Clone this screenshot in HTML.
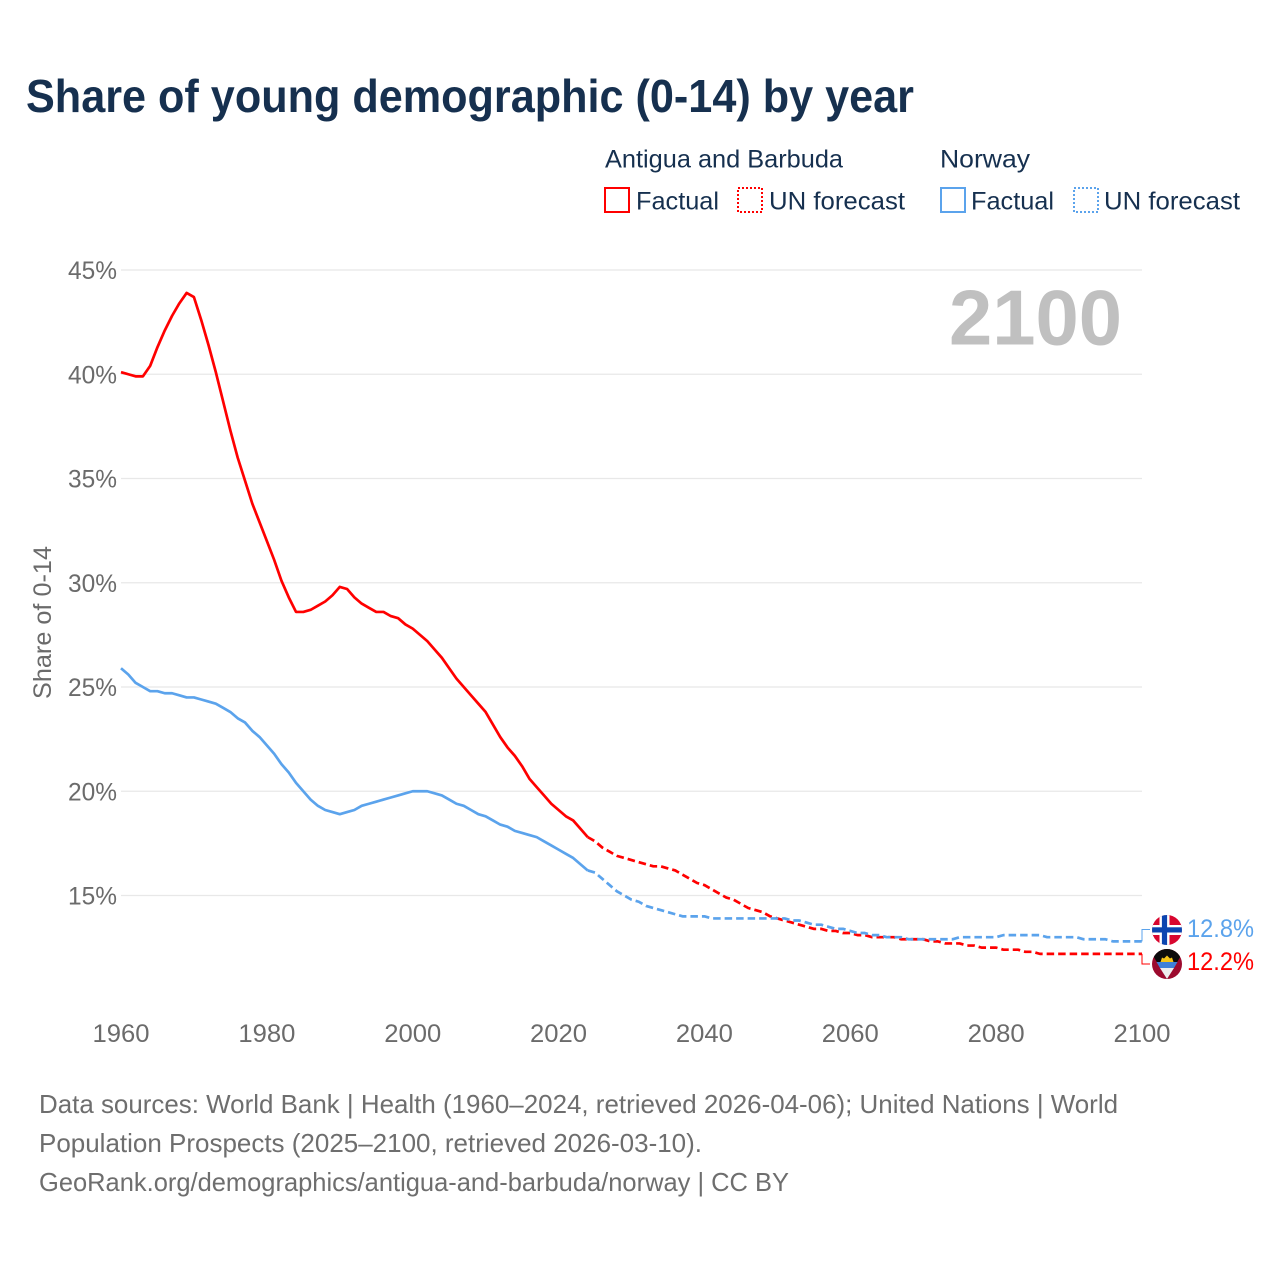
<!DOCTYPE html>
<html lang="en">
<head>
<meta charset="utf-8">
<title>Share of young demographic (0-14) by year</title>
<style>
html,body{margin:0;padding:0;background:#fff;}
svg{display:block;}
text{font-family:"Liberation Sans",sans-serif;}
</style>
</head>
<body>
<svg id="chart" xmlns="http://www.w3.org/2000/svg" width="1280" height="1280" viewBox="0 0 1280 1280">
  <defs>
    <clipPath id="clip-no"><circle cx="1167" cy="930" r="15"/></clipPath>
    <clipPath id="clip-ag"><circle cx="1167" cy="964" r="15"/></clipPath>
  </defs>
  <text x="26" y="112" font-size="46" font-weight="700" fill="#16304f" textLength="888" lengthAdjust="spacingAndGlyphs">Share of young demographic (0-14) by year</text>

  <g font-size="25" fill="#16304f">
    <text x="605" y="167.5" textLength="238" lengthAdjust="spacingAndGlyphs">Antigua and Barbuda</text>
    <text x="940" y="167.5" textLength="90" lengthAdjust="spacingAndGlyphs">Norway</text>
    <rect x="605" y="188" width="24" height="24" fill="none" stroke="#ff0000" stroke-width="2"/>
    <text x="636" y="209.5" textLength="83" lengthAdjust="spacingAndGlyphs">Factual</text>
    <rect x="738" y="188" width="24" height="24" fill="none" stroke="#ff0000" stroke-width="2" stroke-dasharray="2 2"/>
    <text x="769" y="209.5" textLength="136" lengthAdjust="spacingAndGlyphs">UN forecast</text>
    <rect x="941" y="188" width="24" height="24" fill="none" stroke="#5ba3ec" stroke-width="2"/>
    <text x="971" y="209.5" textLength="83" lengthAdjust="spacingAndGlyphs">Factual</text>
    <rect x="1074" y="188" width="24" height="24" fill="none" stroke="#5ba3ec" stroke-width="2" stroke-dasharray="2 2"/>
    <text x="1104" y="209.5" textLength="136" lengthAdjust="spacingAndGlyphs">UN forecast</text>
  </g>

  <g id="grid"></g>
  <g id="yticks"></g>
  <g id="xticks"></g>

  <text transform="translate(51,622.5) rotate(-90)" text-anchor="middle" font-size="25" fill="#6b6b6b" textLength="153" lengthAdjust="spacingAndGlyphs">Share of 0-14</text>
  <text x="949" y="344.5" font-size="78" font-weight="700" fill="#c0c0c0" textLength="173" lengthAdjust="spacingAndGlyphs">2100</text>

  <g id="series"></g>

  <g clip-path="url(#clip-no)">
    <rect x="1152" y="915" width="30" height="30" fill="#d8062f"/>
    <rect x="1152" y="925" width="30" height="10" fill="#ffffff"/>
    <rect x="1159.5" y="915" width="10" height="30" fill="#ffffff"/>
    <rect x="1152" y="927.3" width="30" height="5.2" fill="#0b45b0"/>
    <rect x="1161.9" y="915" width="5.2" height="30" fill="#0b45b0"/>
  </g>
  <g clip-path="url(#clip-ag)">
    <rect x="1152" y="949" width="30" height="30" fill="#9c0a2e"/>
    <polygon points="1149,949 1185,949 1167,979" fill="#0c0c0c"/>
    <polygon points="1160.5,962 1162,957.5 1164,958.5 1167,955.5 1170,958.5 1172,957.5 1173.5,962" fill="#f5c518"/>
    <polygon points="1156.5,962 1177.5,962 1174,968 1160,968" fill="#3f80d8"/>
    <polygon points="1160,968 1174,968 1167,979" fill="#eeeeee"/>
  </g>
  <g id="endlabels"></g>

  <g font-size="26" fill="#6e6e6e">
    <text x="39" y="1113" textLength="1079" lengthAdjust="spacingAndGlyphs">Data sources: World Bank | Health (1960–2024, retrieved 2026-04-06); United Nations | World</text>
    <text x="39" y="1152" textLength="663" lengthAdjust="spacingAndGlyphs">Population Prospects (2025–2100, retrieved 2026-03-10).</text>
    <text x="39" y="1191" textLength="750" lengthAdjust="spacingAndGlyphs">GeoRank.org/demographics/antigua-and-barbuda/norway | CC BY</text>
  </g>
</svg>
<script>
const firstYear = 1960;
const yTicks = [15, 20, 25, 30, 35, 40, 45];
const xTicks = [1960, 1980, 2000, 2020, 2040, 2060, 2080, 2100];

// 1960-2024
const antiguaFactual = [
  40.1,40.0,39.9,39.9,40.4,41.3,42.1,42.8,43.4,43.9,
  43.7,42.6,41.4,40.1,38.7,37.3,36.0,34.9,33.8,32.9,
  32.0,31.1,30.1,29.3,28.6,28.6,28.7,28.9,29.1,29.4,
  29.8,29.7,29.3,29.0,28.8,28.6,28.6,28.4,28.3,28.0,
  27.8,27.5,27.2,26.8,26.4,25.9,25.4,25.0,24.6,24.2,
  23.8,23.2,22.6,22.1,21.7,21.2,20.6,20.2,19.8,19.4,
  19.1,18.8,18.6,18.2,17.8
];
// 2025-2100
const antiguaForecast = [
  17.6,17.3,17.1,16.9,16.8,
  16.7,16.6,16.5,16.4,16.4,16.3,16.2,16.0,15.8,15.6,
  15.5,15.3,15.1,14.9,14.8,14.6,14.4,14.3,14.2,14.0,
  13.9,13.8,13.7,13.6,13.5,13.4,13.4,13.3,13.3,13.2,
  13.2,13.1,13.1,13.0,13.0,13.0,13.0,12.9,12.9,12.9,
  12.9,12.8,12.8,12.7,12.7,12.7,12.6,12.6,12.5,12.5,
  12.5,12.4,12.4,12.4,12.3,12.3,12.2,12.2,12.2,12.2,
  12.2,12.2,12.2,12.2,12.2,12.2,12.2,12.2,12.2,12.2,
  12.2
];
// 1960-2024
const norwayFactual = [
  25.9,25.6,25.2,25.0,24.8,24.8,24.7,24.7,24.6,24.5,
  24.5,24.4,24.3,24.2,24.0,23.8,23.5,23.3,22.9,22.6,
  22.2,21.8,21.3,20.9,20.4,20.0,19.6,19.3,19.1,19.0,
  18.9,19.0,19.1,19.3,19.4,19.5,19.6,19.7,19.8,19.9,
  20.0,20.0,20.0,19.9,19.8,19.6,19.4,19.3,19.1,18.9,
  18.8,18.6,18.4,18.3,18.1,18.0,17.9,17.8,17.6,17.4,
  17.2,17.0,16.8,16.5,16.2
];
// 2025-2100
const norwayForecast = [
  16.1,15.8,15.5,15.2,15.0,
  14.8,14.7,14.5,14.4,14.3,14.2,14.1,14.0,14.0,14.0,
  14.0,13.9,13.9,13.9,13.9,13.9,13.9,13.9,13.9,13.9,
  13.9,13.9,13.8,13.8,13.7,13.6,13.6,13.5,13.4,13.4,
  13.3,13.2,13.2,13.1,13.1,13.0,13.0,13.0,12.9,12.9,
  12.9,12.9,12.9,12.9,12.9,13.0,13.0,13.0,13.0,13.0,
  13.0,13.1,13.1,13.1,13.1,13.1,13.1,13.0,13.0,13.0,
  13.0,13.0,12.9,12.9,12.9,12.9,12.8,12.8,12.8,12.8,
  12.8
];

const NS = 'http://www.w3.org/2000/svg';
const RED = '#ff0000';
const BLUE = '#5ba3ec';
const xScale = function (year) { return 121 + (year - 1960) * (1142 - 121) / 140; };
const yScale = function (v) { return 895.5 - (v - 15) * (895.5 - 270) / 30; };

const grid = document.getElementById('grid');
const yTickGroup = document.getElementById('yticks');
yTicks.forEach(function (t) {
  const line = document.createElementNS(NS, 'line');
  
  
  line.setAttribute('x1', 121);
  line.setAttribute('x2', 1142);
  line.setAttribute('y1', yScale(t));
  line.setAttribute('y2', yScale(t));
  line.setAttribute('stroke', '#e8e8e8');
  line.setAttribute('stroke-width', '1.2');
  grid.appendChild(line);
  const label = document.createElementNS(NS, 'text');
  
  
  label.setAttribute('x', 68);
  label.setAttribute('y', yScale(t) + 9);
  label.setAttribute('font-size', '25');
  label.setAttribute('fill', '#6b6b6b');
  label.setAttribute('textLength', '49');
  label.setAttribute('lengthAdjust', 'spacingAndGlyphs');
  label.textContent = t + '%';
  yTickGroup.appendChild(label);
});

const xTickGroup = document.getElementById('xticks');
xTicks.forEach(function (t) {
  const label = document.createElementNS(NS, 'text');
  
  
  label.setAttribute('x', xScale(t) - 28.5);
  label.setAttribute('y', 1042);
  label.setAttribute('font-size', '25');
  label.setAttribute('fill', '#6b6b6b');
  label.setAttribute('textLength', '57');
  label.setAttribute('lengthAdjust', 'spacingAndGlyphs');
  label.textContent = t;
  xTickGroup.appendChild(label);
});

const seriesGroup = document.getElementById('series');
function buildPath(values, startYear) {
  return values.map(function (v, i) {
    return (i ? 'L' : 'M') + xScale(startYear + i).toFixed(2) + ' ' + yScale(v).toFixed(2);
  }).join(' ');
}
function drawLine(values, startYear, color, dashed, name) {
  const path = document.createElementNS(NS, 'path');
  
  
  path.setAttribute('d', buildPath(values, startYear));
  path.setAttribute('fill', 'none');
  path.setAttribute('stroke', color);
  path.setAttribute('stroke-width', '2.7');
  path.setAttribute('stroke-linejoin', 'round');
  if (dashed) path.setAttribute('stroke-dasharray', '7.5 4');
  seriesGroup.appendChild(path);
}
const forecastStart = firstYear + antiguaFactual.length - 1;
drawLine(antiguaFactual, firstYear, RED, false, 'antigua-factual-line');
drawLine(norwayFactual, firstYear, BLUE, false, 'norway-factual-line');
drawLine([antiguaFactual[antiguaFactual.length - 1]].concat(antiguaForecast), forecastStart, RED, true, 'antigua-forecast-line');
drawLine([norwayFactual[norwayFactual.length - 1]].concat(norwayForecast), forecastStart, BLUE, true, 'norway-forecast-line');

const endGroup = document.getElementById('endlabels');
function drawEnd(values, color, labelY, flagY, name) {
  const v = values[values.length - 1];
  const conn = document.createElementNS(NS, 'path');
  
  
  conn.setAttribute('d', 'M1142 ' + yScale(v).toFixed(1) + ' V' + flagY + ' H1150');
  conn.setAttribute('fill', 'none');
  conn.setAttribute('stroke', color);
  conn.setAttribute('stroke-width', '1');
  endGroup.appendChild(conn);
  const label = document.createElementNS(NS, 'text');
  
  
  label.setAttribute('x', 1187);
  label.setAttribute('y', labelY);
  label.setAttribute('font-size', '25');
  label.setAttribute('fill', color);
  label.setAttribute('textLength', '67');
  label.setAttribute('lengthAdjust', 'spacingAndGlyphs');
  label.textContent = v.toFixed(1) + '%';
  endGroup.appendChild(label);
}
drawEnd(norwayForecast, BLUE, 937, 929.5, 'norway');
drawEnd(antiguaForecast, RED, 970, 964, 'antigua');
</script>
</body>
</html>
